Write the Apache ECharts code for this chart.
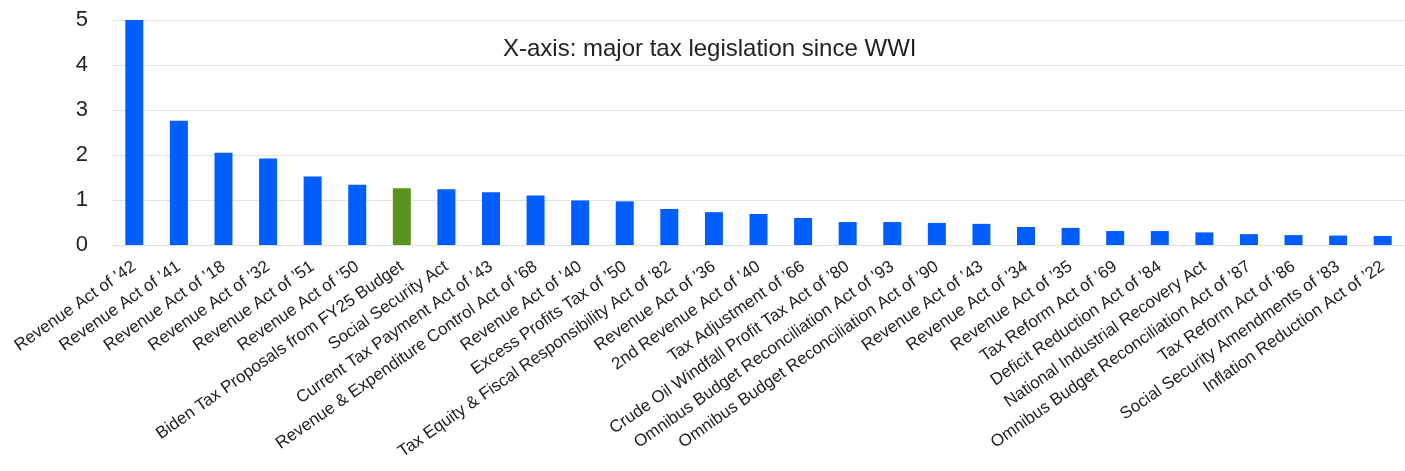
<!DOCTYPE html>
<html>
<head>
<meta charset="utf-8">
<script src="https://cdn.jsdelivr.net/npm/echarts@6/dist/echarts.min.js"></script>
<style>
  html, body { margin: 0; padding: 0; background: #fff; }
  #chart { width: 1405px; height: 471px; }
</style>
</head>
<body>
<div id="chart"></div>
<script>
// Major tax legislation since WWI
const categories = [
  "Revenue Act of \u201942", "Revenue Act of \u201941", "Revenue Act of \u201918",
  "Revenue Act of \u201932", "Revenue Act of \u201951", "Revenue Act of \u201950",
  "Biden Tax Proposals from FY25 Budget", "Social Security Act",
  "Current Tax Payment Act of \u201943", "Revenue & Expenditure Control Act of \u201968",
  "Revenue Act of \u201940", "Excess Profits Tax of \u201950",
  "Tax Equity & Fiscal Responsibility Act of \u201982", "Revenue Act of \u201936",
  "2nd Revenue Act of \u201940", "Tax Adjustment of \u201966",
  "Crude Oil Windfall Profit Tax Act of \u201980", "Omnibus Budget Reconciliation Act of \u201993",
  "Omnibus Budget Reconciliation Act of \u201990", "Revenue Act of \u201943",
  "Revenue Act of \u201934", "Revenue Act of \u201935", "Tax Reform Act of \u201969",
  "Deficit Reduction Act of \u201984", "National Industrial Recovery Act",
  "Omnibus Budget Reconciliation Act of \u201987", "Tax Reform Act of \u201986",
  "Social Security Amendments of \u201983", "Inflation Reduction Act of \u201922"
];
const values = [
  5.00, 2.76, 2.05, 1.92, 1.52, 1.34, 1.26, 1.24, 1.17, 1.10,
  0.99, 0.97, 0.80, 0.73, 0.69, 0.60, 0.51, 0.51, 0.49, 0.47,
  0.40, 0.38, 0.31, 0.31, 0.28, 0.24, 0.22, 0.21, 0.20
];
const yTicks = [0, 1, 2, 3, 4, 5];
const highlighted = "Biden Tax Proposals from FY25 Budget";

const BLUE = "#005eff";
const GREEN = "#5a931e";

const chart = echarts.init(document.getElementById("chart"), null, { renderer: "canvas" });
chart.setOption({
  animation: false,
  backgroundColor: "#ffffff",
  title: {
    text: "X-axis: major tax legislation since WWI",
    left: 503,
    top: 37,
    padding: 0,
    textStyle: {
      fontFamily: "Liberation Sans, Arial, sans-serif",
      fontSize: 24,
      fontWeight: "normal",
      color: "#222222"
    }
  },
  grid: {
    left: 112,
    top: 20,
    width: 1303,
    height: 225,
    containLabel: false
  },
  xAxis: {
    type: "category",
    data: categories,
    axisLine: { show: true, lineStyle: { color: "#dddddd", width: 1 } },
    axisTick: { show: false },
    axisLabel: {
      interval: 0,
      rotate: 35,
      margin: 20,
      fontFamily: "Liberation Sans, Arial, sans-serif",
      fontSize: 17,
      color: "#222222"
    }
  },
  yAxis: {
    type: "value",
    min: yTicks[0],
    max: yTicks[yTicks.length - 1],
    interval: 1,
    axisLine: { show: false },
    axisTick: { show: false },
    splitLine: { show: true, lineStyle: { color: "#e3e3e3", width: 1 } },
    axisLabel: {
      margin: 24,
      fontFamily: "Liberation Sans, Arial, sans-serif",
      fontSize: 22,
      color: "#222222"
    }
  },
  series: [{
    type: "bar",
    barWidth: 18,
    data: values.map((v, i) => ({
      value: v,
      itemStyle: { color: categories[i] === highlighted ? GREEN : BLUE }
    }))
  }]
});
</script>
</body>
</html>
